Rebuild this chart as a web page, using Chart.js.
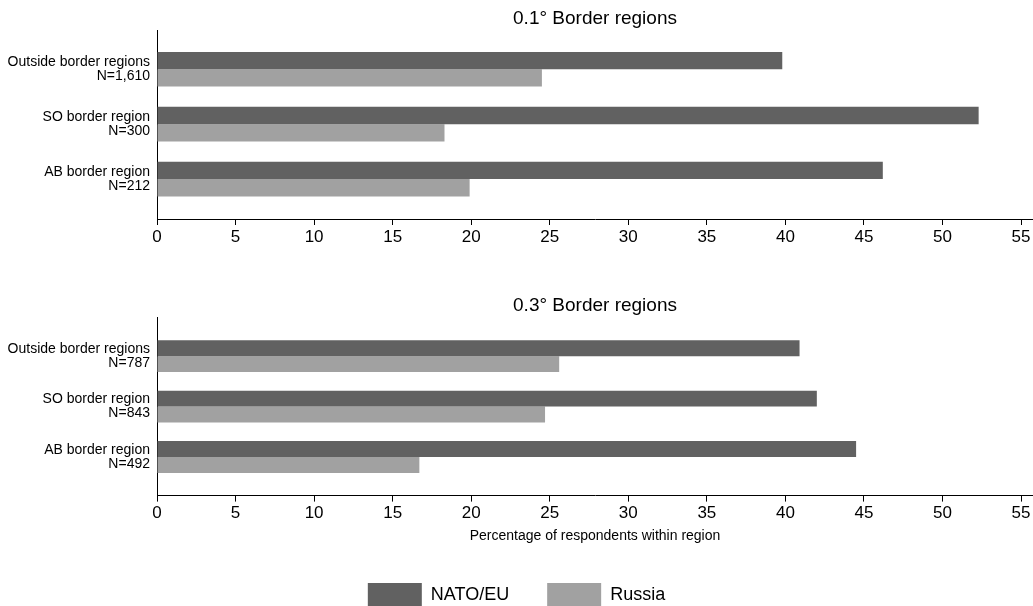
<!DOCTYPE html>
<html>
<head>
<meta charset="utf-8">
<script src="https://cdn.jsdelivr.net/npm/chart.js@4/dist/chart.umd.min.js"></script>
<style>
  html, body { margin: 0; padding: 0; background: #fff; overflow: hidden; }
  #panelTop { position: absolute; left: 0; top: 0; width: 1033px; height: 262px; }
  #panelBottom { position: absolute; left: 0; top: 270px; width: 1033px; height: 347px; }
</style>
</head>
<body>
<div id="panelTop"><canvas id="chartTop"></canvas></div>
<div id="panelBottom"><canvas id="chartBottom"></canvas></div>
<script>
// Regions and sample sizes
const regionNames = ['Outside border regions', 'SO border region', 'AB border region'];
const nLabels01 = ['N=1,610', 'N=300', 'N=212'];
const nLabels03 = ['N=787', 'N=843', 'N=492'];

// Share of respondents (%) naming each side, per border definition
const nato01 = [39.8, 52.3, 46.2];
const russia01 = [24.5, 18.3, 19.9];
const nato03 = [40.9, 42.0, 44.5];
const russia03 = [25.6, 24.7, 16.7];

const seriesNames = ['NATO/EU', 'Russia'];
const xTicks = [0, 5, 10, 15, 20, 25, 30, 35, 40, 45, 50, 55];

const FONT = '"Liberation Sans", Arial, Helvetica, sans-serif';
const NATO_COLOR = '#616161';
const RUSSIA_COLOR = '#a1a1a1';

Chart.defaults.font.family = FONT;
Chart.defaults.color = '#000';

function toPoints(values) {
  return values.map((v, i) => ({ x: v, y: i }));
}

function makePanel(canvasId, cfg) {
  return new Chart(document.getElementById(canvasId), {
    type: 'bar',
    data: {
      datasets: [
        { label: seriesNames[0], data: toPoints(cfg.nato), backgroundColor: NATO_COLOR, borderWidth: 0 },
        { label: seriesNames[1], data: toPoints(cfg.russia), backgroundColor: RUSSIA_COLOR, borderWidth: 0 }
      ]
    },
    options: {
      indexAxis: 'y',
      responsive: true,
      maintainAspectRatio: false,
      animation: false,
      layout: { padding: { left: 0, right: 0, top: 0, bottom: 0 } },
      datasets: { bar: { categoryPercentage: 0.632, barPercentage: 1 } },
      plugins: {
        tooltip: { enabled: false },
        title: {
          display: true,
          fullSize: false,
          text: cfg.title,
          color: '#000',
          font: { size: 19, weight: 'normal' },
          padding: cfg.titlePadding
        },
        legend: {
          display: cfg.showLegend,
          position: 'bottom',
          labels: {
            boxWidth: 54,
            boxHeight: 24,
            padding: 38,
            color: '#000',
            font: { size: 18 }
          }
        }
      },
      scales: {
        x: {
          type: 'linear',
          min: 0,
          max: 55.76,
          afterBuildTicks: (scale) => { scale.ticks = xTicks.map(v => ({ value: v })); },
          afterFit: (scale) => { scale.height = cfg.xAxisHeight; },
          grid: { display: true, drawOnChartArea: false, drawTicks: true, tickLength: 6, color: '#000', lineWidth: 1 },
          border: { display: true, color: '#000', width: 1 },
          ticks: { padding: 2, color: '#000', font: { size: 17 }, maxRotation: 0, autoSkip: false },
          title: {
            display: cfg.showAxisTitle,
            text: 'Percentage of respondents within region',
            color: '#000',
            font: { size: 14 },
            padding: 0
          }
        },
        y: {
          type: 'linear',
          reverse: true,
          offset: false,
          bounds: 'data',
          grace: 0,
          min: cfg.yMin,
          max: cfg.yMax,
          afterBuildTicks: (scale) => { scale.ticks = regionNames.map((_, i) => ({ value: i })); },
          afterFit: (scale) => { scale.width = 157; },
          grid: { display: false, drawTicks: false, offset: false },
          border: { display: true, color: '#000', width: 1 },
          ticks: {
            padding: 7,
            color: '#000',
            font: { size: 14, lineHeight: 1.0 },
            autoSkip: false,
            callback: (value) => [regionNames[value], cfg.nLabels[value]]
          }
        }
      }
    }
  });
}

makePanel('chartTop', {
  title: '0.1\u00B0 Border regions',
  nato: nato01,
  russia: russia01,
  nLabels: nLabels01,
  yMin: -0.715,
  yMax: 2.727,
  xAxisHeight: 43,
  showAxisTitle: false,
  showLegend: false,
  titlePadding: { top: 6.9, bottom: 0.3 }
});

makePanel('chartBottom', {
  title: '0.3\u00B0 Border regions',
  nato: nato03,
  russia: russia03,
  nLabels: nLabels03,
  yMin: -0.77,
  yMax: 2.764,
  xAxisHeight: 49.4,
  showAxisTitle: true,
  showLegend: true,
  titlePadding: { top: 24.2, bottom: 0.3 }
});
</script>
</body>
</html>
